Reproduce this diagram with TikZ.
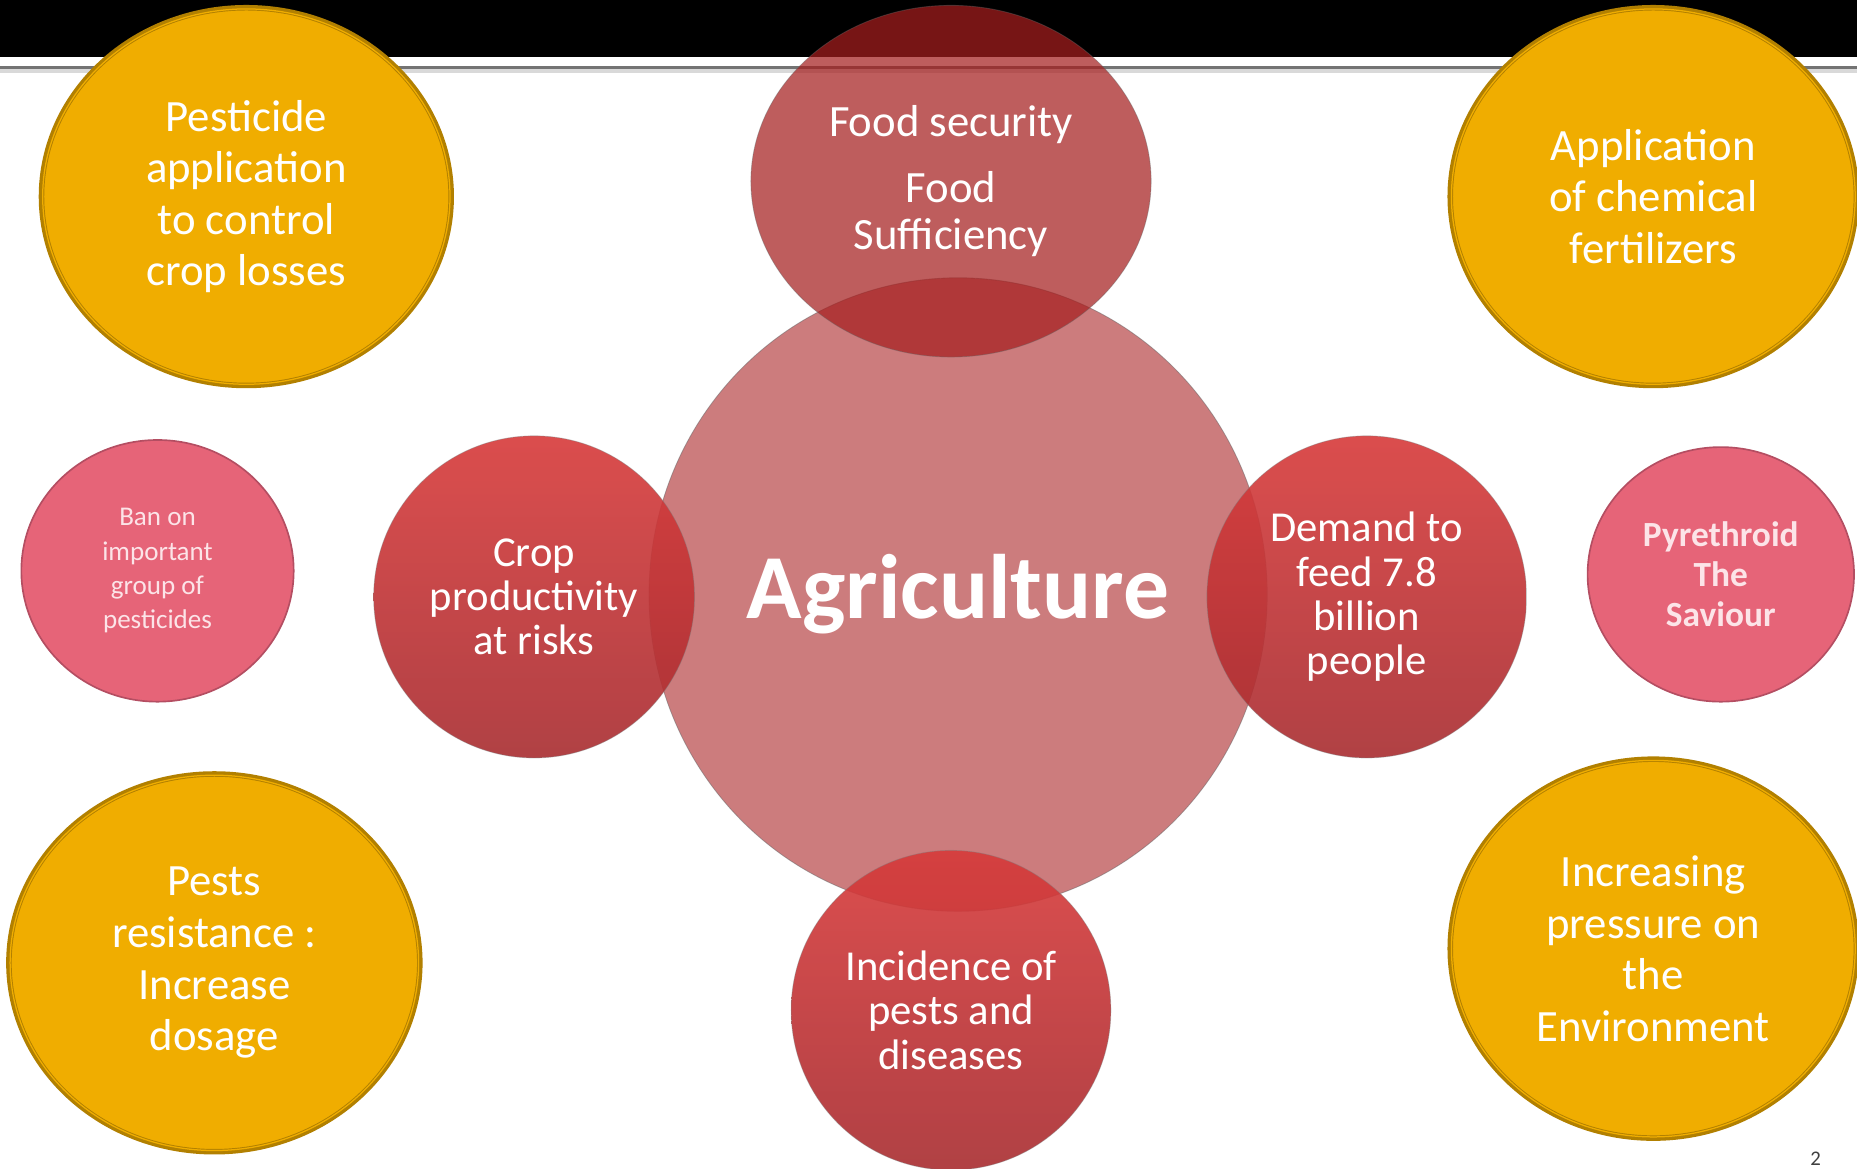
\documentclass[tikz,border=0pt]{standalone}
\usepackage{fontspec}
\setmainfont{Carlito}
\definecolor{hubred}{RGB}{180, 62, 64}
\definecolor{capred}{RGB}{165, 30, 30}
\definecolor{redtop}{RGB}{215, 58, 58}
\definecolor{redbot}{RGB}{168, 44, 48}
\definecolor{goldfill}{RGB}{240, 173, 0}
\definecolor{golddraw}{RGB}{178, 128, 0}
\definecolor{pinkfill}{RGB}{230, 100, 120}
\definecolor{pinkdraw}{RGB}{180, 78, 98}
\definecolor{pinktext}{RGB}{252, 228, 232}
\usetikzlibrary{shapes.geometric}

\begin{document}
\begin{tikzpicture}[
    x=0.02cm, y=-0.02cm,
    bubble/.style={ellipse, inner sep=0pt, align=center, text=white},
    hub/.style={bubble, fill=hubred, fill opacity=0.68, text opacity=1, draw=black!60, draw opacity=0.5, thin,
      font=\bfseries\fontsize{44}{50}\selectfont},
    topcap/.style={bubble, fill=capred, fill opacity=0.72, text opacity=1, draw=black!60, draw opacity=0.4, thin,
      font=\fontsize{21.5}{22.8}\selectfont},
    spoke/.style={bubble, top color=redtop, bottom color=redbot, fill opacity=0.9, text opacity=1,
      draw=black!50, draw opacity=0.4, thin, font=\fontsize{20.5}{21.3}\selectfont},
    % thick outer rim with a thin inner ring
    gold/.style={bubble, fill=goldfill, preaction={draw=golddraw, line width=3.8pt},
      draw=golddraw, line width=0.45pt, double=goldfill, double distance=0.6pt,
      font=\fontsize{21.5}{24.8}\selectfont},
    pinkdot/.style={bubble, fill=pinkfill, draw=pinkdraw, line width=0.8pt, text=pinktext},
  ]
  \useasboundingbox (0,0) rectangle (1568,987);
  \clip (0,0) rectangle (1568,987);

  % Title bar
  \fill[black] (0,0) rectangle (1568,48);
  \draw[black!15, line width=2pt] (0,60) -- (1568,60);
  \draw[black!55, line width=1.1pt] (0,57) -- (1568,57);

  % Agriculture and its four spokes
  \node[hub, minimum width=10.44cm, minimum height=10.7cm] (agri) at (809,502) {Agriculture};
  \node[topcap, minimum width=6.76cm, minimum height=5.94cm] (food) at (803,153)
    {Food security\\[9pt]Food\\Sufficiency};
  \node[spoke, minimum width=5.42cm, minimum height=5.44cm] (crop) at (451,504)
    {Crop\\productivity\\at risks};
  \node[spoke, minimum width=5.4cm, minimum height=5.44cm] (demand) at (1154,504)
    {Demand to\\feed 7.8\\billion\\people};
  \node[spoke, minimum width=5.4cm, minimum height=5.4cm] (pests) at (803,853)
    {Incidence of\\pests and\\diseases};

  % Corner issues
  \node[gold, minimum width=6.88cm, minimum height=6.34cm] (pesticide) at (208,166)
    {Pesticide\\application\\to control\\crop losses};
  \node[gold, minimum width=6.82cm, minimum height=6.34cm] (fertilizer) at (1396,166)
    {Application\\of chemical\\fertilizers};
  \node[gold, minimum width=6.9cm, minimum height=6.34cm] (resist) at (181,813)
    {Pests\\resistance :\\Increase\\dosage};
  \node[gold, minimum width=6.82cm, minimum height=6.36cm] (environ) at (1396,801)
    {Increasing\\pressure on\\the\\Environment};

  % Side notes
  \node[pinkdot, minimum width=4.6cm, minimum height=4.42cm, font=\fontsize{13}{16.5}\selectfont] (ban) at (133,482)
    {Ban on\\important\\group of\\pesticides};
  \node[pinkdot, minimum width=4.5cm, minimum height=4.3cm, font=\bfseries\fontsize{17}{19.3}\selectfont] (pyre) at (1453,485)
    {Pyrethroid\\The\\Saviour};

  % Slide number
  \node[text=black!75, font=\fontsize{10}{12}\selectfont] (pageno) at (1533,978) {2};

\end{tikzpicture}
\end{document}
